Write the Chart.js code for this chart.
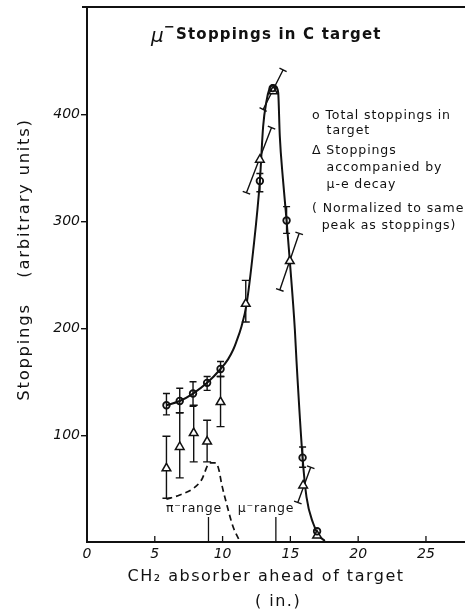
<!DOCTYPE html>
<html>
<head>
<meta charset="utf-8">
<title>mu- stoppings in C target</title>
<script src="https://cdn.jsdelivr.net/npm/chart.js@4.4.0/dist/chart.umd.min.js"></script>
<style>
  html, body { margin: 0; padding: 0; background: #fff; }
  canvas { display: block; }
</style>
</head>
<body>
<canvas id="stopChart" width="465" height="614"></canvas>
<script>
// total stoppings in target (open circles)
const circX  = [5.86, 6.84, 7.82, 8.86, 9.85, 12.75, 13.7, 14.72, 15.9, 16.97];
const circY  = [128, 132, 139, 149, 162, 338, 425, 301, 79, 10];
const circLo = [119, 121, 127, 142, 155, 328, null, 289, 70, null];
const circHi = [139, 144, 150, 155, 169, 345, null, 314, 89, null];

// stoppings accompanied by mu-e decay (triangles), error bars may be tilted
const triX   = [5.86, 6.84, 7.87, 8.86, 9.85, 11.71, 12.75, 13.73, 14.96, 15.94, 16.97];
const triY   = [69, 89, 102, 94, 131, 223, 358, 422, 263, 53, 6];
const triLo  = [41, 60, 75, 75, 108, 206, 327, 405, 236, 37, null];
const triHi  = [99, 121, 128, 114, 155, 245, 388, 442, 289, 70, null];
const triLoX = [5.86, 6.84, 7.87, 8.86, 9.85, 11.71, 11.76, 12.99, 14.22, 15.55, null];
const triHiX = [5.86, 6.84, 7.87, 8.86, 9.85, 11.71, 13.61, 14.46, 15.65, 16.5, null];

// hand drawn curve through the total stoppings
const curveX = [5.86, 6.84, 7.82, 8.86, 9.85, 10.4, 10.78, 11.0, 11.4, 11.76, 12.25, 12.75, 12.99, 13.24, 13.45, 13.7, 13.9, 14.1, 14.22, 14.45, 14.72, 14.96, 15.33, 15.45, 15.9, 16.19, 16.68, 17.1, 17.54];
const curveY = [128, 132, 139, 149, 162, 171, 180, 187, 202, 222, 272, 338, 389, 413, 424, 428, 427, 421, 380, 340, 301, 263, 199, 170, 79, 42, 17.5, 6, 1];

// dashed pi- contribution
const dashX = [5.86, 6.84, 7.82, 8.44, 9.06, 9.5, 9.74, 9.92, 10.29, 10.78, 11.3];
const dashY = [40, 44, 50, 58, 74, 74, 67, 55, 36, 14, 0];

// range markers
const rangeX = [8.96, 13.93];
const rangeNames = ['\u03c0\u207brange', '\u03bc\u207brange'];

const xTicks = [0, 5, 10, 15, 20, 25];
const yTicks = [100, 200, 300, 400];

const legendLines = [
  'o Total stoppings in', '   target',
  '\u0394 Stoppings', '   accompanied by', '   \u03bc-e decay',
  '( Normalized to same', '  peak as stoppings)'
];

const ink = '#111';
const FONT = 'DejaVu Sans';

function errBar(ctx, x1, y1, x2, y2, cap) {
  const len = Math.hypot(x2 - x1, y2 - y1) || 1;
  const nx = -(y2 - y1) / len * cap / 2;
  const ny = (x2 - x1) / len * cap / 2;
  ctx.beginPath();
  ctx.moveTo(x1, y1); ctx.lineTo(x2, y2);
  ctx.moveTo(x1 - nx, y1 - ny); ctx.lineTo(x1 + nx, y1 + ny);
  ctx.moveTo(x2 - nx, y2 - ny); ctx.lineTo(x2 + nx, y2 + ny);
  ctx.stroke();
}

const errorBars = {
  id: 'errorBars',
  beforeDatasetsDraw(chart) {
    const { ctx, scales: { x, y } } = chart;
    ctx.save();
    ctx.strokeStyle = ink;
    ctx.lineWidth = 1.4;
    circX.forEach((cx, i) => {
      if (circLo[i] == null) return;
      const px = x.getPixelForValue(cx);
      errBar(ctx, px, y.getPixelForValue(circLo[i]), px, y.getPixelForValue(circHi[i]), 7);
    });
    triX.forEach((tx, i) => {
      if (triLo[i] == null) return;
      errBar(ctx, x.getPixelForValue(triLoX[i]), y.getPixelForValue(triLo[i]),
        x.getPixelForValue(triHiX[i]), y.getPixelForValue(triHi[i]), 8);
    });
    ctx.restore();
  }
};

const annotations = {
  id: 'annotations',
  afterDraw(chart) {
    const { ctx, chartArea: a, scales: { x } } = chart;
    ctx.save();
    ctx.strokeStyle = ink;
    ctx.fillStyle = ink;

    // frame: top line, and bottom axis carried on to the page edge
    ctx.lineWidth = 2;
    ctx.beginPath();
    ctx.moveTo(a.left - 5, a.top - 1);
    ctx.lineTo(chart.width, a.top - 1);
    ctx.moveTo(a.right - 1, a.bottom);
    ctx.lineTo(chart.width, a.bottom);
    ctx.stroke();

    // inward x ticks
    ctx.lineWidth = 1.3;
    xTicks.forEach(v => {
      if (v === 0) return;
      const px = x.getPixelForValue(v);
      ctx.beginPath();
      ctx.moveTo(px, a.bottom);
      ctx.lineTo(px, a.bottom - 6);
      ctx.stroke();
    });

    // range markers
    ctx.font = '12.5px ' + FONT;
    ctx.letterSpacing = '0.8px';
    ctx.textBaseline = 'middle';
    ctx.textAlign = 'center';
    const labelCx = [194, 266];
    rangeX.forEach((v, i) => {
      const px = x.getPixelForValue(v);
      ctx.beginPath();
      ctx.moveTo(px, a.bottom - 25);
      ctx.lineTo(px, a.bottom);
      ctx.stroke();
      ctx.fillText(rangeNames[i], labelCx[i], 509);
    });

    // title
    ctx.textAlign = 'left';
    ctx.letterSpacing = '0px';
    ctx.font = 'italic 20px ' + FONT;
    ctx.fillText('\u03bc', 151, 37);
    ctx.font = 'bold 13px ' + FONT;
    ctx.fillText('\u2212', 164, 28);
    ctx.font = 'bold 15px ' + FONT;
    ctx.letterSpacing = '1.2px';
    ctx.fillText('Stoppings in C target', 176, 35);

    // legend
    ctx.font = '12.5px ' + FONT;
    ctx.letterSpacing = '0.9px';
    const legY = [116, 131, 151, 168, 185, 209, 226];
    legendLines.forEach((t, i) => ctx.fillText(t, 312, legY[i]));

    // x axis title
    ctx.textAlign = 'center';
    ctx.font = '16px ' + FONT;
    ctx.letterSpacing = '1.5px';
    ctx.fillText('CH\u2082 absorber ahead of target', 266, 577);
    ctx.fillText('( in.)', 278, 602);

    // y axis title
    ctx.font = '16.5px ' + FONT;
    ctx.letterSpacing = '1.7px';
    ctx.translate(25, 0);
    ctx.rotate(-Math.PI / 2);
    ctx.fillText('Stoppings', -352, 0);
    ctx.fillText('(arbitrary units)', -198, 0);

    ctx.restore();
  }
};

const pts = (xs, ys) => xs.map((v, i) => ({ x: v, y: ys[i] }));

new Chart(document.getElementById('stopChart'), {
  type: 'scatter',
  data: {
    datasets: [
      {
        label: 'Total stoppings in target',
        data: pts(circX, circY),
        pointStyle: 'circle',
        pointRadius: 3.3,
        pointBorderWidth: 1.8,
        pointBackgroundColor: 'rgba(0,0,0,0)',
        pointBorderColor: ink,
        showLine: false,
        clip: false
      },
      {
        label: 'Stoppings accompanied by mu-e decay',
        data: pts(triX, triY),
        pointStyle: 'triangle',
        pointRadius: 5,
        pointBorderWidth: 1.5,
        pointBackgroundColor: '#fff',
        pointBorderColor: ink,
        showLine: false,
        clip: false
      },
      {
        label: 'curve',
        data: pts(curveX, curveY),
        showLine: true,
        pointRadius: 0,
        borderColor: ink,
        borderWidth: 2,
        cubicInterpolationMode: 'monotone'
      },
      {
        label: 'pi contribution',
        data: pts(dashX, dashY),
        showLine: true,
        pointRadius: 0,
        borderColor: ink,
        borderWidth: 1.7,
        borderDash: [6, 4],
        cubicInterpolationMode: 'monotone'
      }
    ]
  },
  options: {
    responsive: false,
    animation: false,
    events: [],
    layout: { padding: { top: 8, right: 0, left: 0, bottom: 0 } },
    plugins: { legend: { display: false }, tooltip: { enabled: false } },
    scales: {
      x: {
        type: 'linear',
        min: 0,
        max: 27.4,
        afterBuildTicks: s => { s.ticks = xTicks.map(v => ({ value: v })); },
        afterFit: s => { s.height = 72; s.paddingLeft = 0; s.paddingRight = 0; },
        grid: { display: false, drawTicks: false },
        border: { display: true, color: ink, width: 2 },
        ticks: {
          color: ink,
          padding: 4,
          maxRotation: 0,
          font: { family: FONT, style: 'italic', size: 14 }
        }
      },
      y: {
        min: 0,
        max: 500,
        afterBuildTicks: s => { s.ticks = yTicks.map(v => ({ value: v })); },
        afterFit: s => { s.width = 87; s.paddingTop = 0; s.paddingBottom = 0; },
        grid: { display: true, drawOnChartArea: false, drawTicks: true, tickLength: 6, color: ink, lineWidth: 1.4 },
        border: { display: true, color: ink, width: 2 },
        ticks: {
          color: ink,
          padding: 1,
          font: { family: FONT, style: 'italic', size: 14 }
        }
      }
    }
  },
  plugins: [errorBars, annotations]
});
</script>
</body>
</html>
